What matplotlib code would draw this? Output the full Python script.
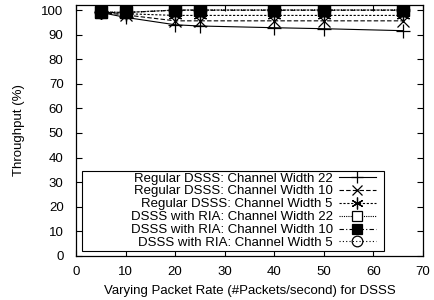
import matplotlib
matplotlib.use("Agg")
import matplotlib.pyplot as plt
from matplotlib.patches import Rectangle

plt.rcParams['font.family'] = ['Liberation Sans', 'DejaVu Sans']

packet_rate = [5, 10, 20, 25, 40, 50, 66]
reg_22 = [99.0, 97.0, 94.0, 93.5, 92.8, 92.4, 91.6]
reg_10 = [99.0, 98.0, 95.6, 95.6, 95.6, 95.6, 95.6]
reg_5 = [99.2, 98.5, 97.8, 97.8, 97.8, 97.8, 97.8]
ria_22 = [99.3, 99.0, 100.0, 100.0, 100.0, 100.0, 100.0]
ria_10 = [99.0, 99.0, 99.9, 99.9, 99.9, 99.9, 99.9]
ria_5 = [99.2, 99.0, 100.0, 100.0, 100.0, 100.0, 100.0]

labels = ["Regular DSSS: Channel Width 22",
          "Regular DSSS: Channel Width 10",
          "Regular DSSS: Channel Width 5",
          "DSSS with RIA: Channel Width 22",
          "DSSS with RIA: Channel Width 10",
          "DSSS with RIA: Channel Width 5"]

fig = plt.figure(figsize=(4.35, 3.0), dpi=100)
ax = fig.add_axes([0.175, 0.147, 0.797, 0.836])

lw = 0.8
ms = 9
ax.plot(packet_rate, reg_22, color='black', lw=lw, ls='-', marker='+', ms=ms + 1, mew=0.9, label=labels[0])
ax.plot(packet_rate, reg_10, color='black', lw=lw, ls=(0, (4, 2)), marker='x', ms=ms, mew=0.9, label=labels[1])
ax.plot(packet_rate, reg_5, color='black', lw=lw, ls=(0, (2, 1.5)), marker=(6, 2, 0), ms=ms + 1, mew=0.9, label=labels[2])
ax.plot(packet_rate, ria_22, color='black', lw=lw, ls=(0, (1, 1)), marker='s', ms=ms, mfc='white', mew=0.9, label=labels[3])
ax.plot(packet_rate, ria_10, color='black', lw=lw, ls=(0, (4, 2, 1, 2)), marker='s', ms=ms, mfc='black', mew=0.9, label=labels[4])
ax.plot(packet_rate, ria_5, color='black', lw=lw, ls=(0, (1, 2)), marker='o', ms=ms, mfc='none', mew=0.9, label=labels[5])

ax.set_xlim(0, 70)
ax.set_ylim(0, 102)
ax.set_xticks(range(0, 71, 10))
ax.set_yticks(range(0, 101, 10))
ax.tick_params(direction='in', top=True, right=True, labelsize=9.5, length=4, width=0.8)
ax.tick_params(axis='x', pad=7)
ax.tick_params(axis='y', pad=9)
for s in ax.spines.values():
    s.set_linewidth(0.9)

ax.set_xlabel("Varying Packet Rate (#Packets/second) for DSSS", fontsize=9.5, labelpad=5)
ax.set_ylabel("Throughput (%)", fontsize=9.5, labelpad=12)

# legend frame (gnuplot style: wide box, text right-aligned, sample on the right)
ax.add_patch(Rectangle((0.017, 0.020), 0.871, 0.317, transform=ax.transAxes,
                       facecolor='white', edgecolor='black', lw=0.8, zorder=4))
leg = ax.legend(loc='lower right', bbox_to_anchor=(0.868, 0.022), markerfirst=False, fontsize=9.5,
                frameon=False, borderpad=0.1, markerscale=0.85,
                labelspacing=0.05, handlelength=2.8, handletextpad=0.45, borderaxespad=0)
leg.set_zorder(5)
for t in leg.get_texts():
    t.set_ha('right')
leg._legend_box.align = 'right'

fig.savefig("out.png", dpi=100)
